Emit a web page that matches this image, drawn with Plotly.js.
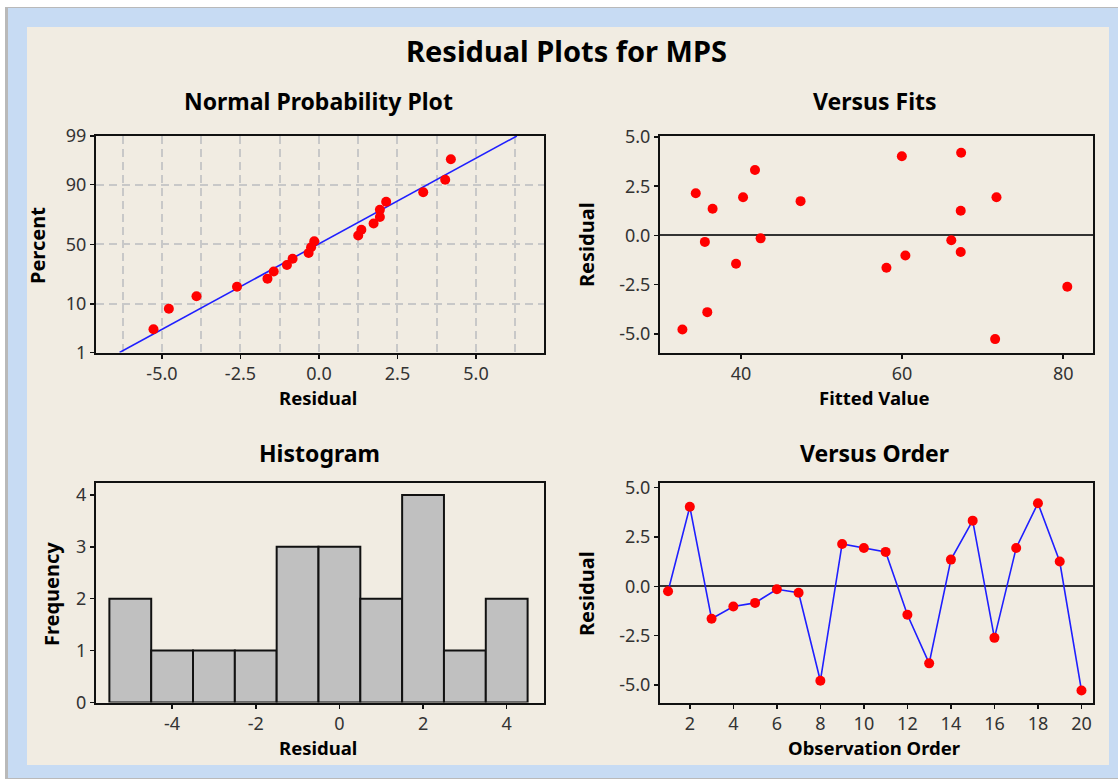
<!DOCTYPE html>
<html>
<head>
<meta charset="utf-8">
<script src="https://cdn.plot.ly/plotly-3.0.1.min.js"></script>
<style>
  html, body { margin: 0; padding: 0; background: #ffffff; }
  #chart { width: 1118px; height: 780px; }
</style>
</head>
<body>
<div id="chart"></div>
<script>
// ---------------- data ----------------
const observation = [1, 2, 3, 4, 5, 6, 7, 8, 9, 10, 11, 12, 13, 14, 15, 16, 17, 18, 19, 20];
const residuals = [-0.25, 4.02, -1.64, -1.02, -0.84, -0.15, -0.33, -4.78, 2.14, 1.94,
                   1.74, -1.44, -3.90, 1.35, 3.32, -2.61, 1.94, 4.20, 1.25, -5.27];
const fittedValues = [66.11, 59.97, 58.06, 60.41, 67.28, 42.44, 35.52, 32.73, 34.39, 40.26,
                      47.40, 39.39, 35.82, 36.48, 41.74, 80.51, 71.72, 67.33, 67.28, 71.55];
// normal probability plot: percent position of each sorted residual
const probPercent = [3.4, 8.3, 13.2, 18.1, 23.0, 27.9, 32.8, 37.7, 42.6, 47.5,
                     52.5, 57.4, 62.3, 67.2, 72.1, 77.0, 81.9, 86.8, 91.7, 96.6];
const fitLineX = [-6.35, 6.30];
const fitLinePercent = [1, 99];
const percentTicks = [1, 10, 50, 90, 99];
const residualTicks = [-5, -2.5, 0, 2.5, 5];
const residualTickText = ["-5.0", "-2.5", "0.0", "2.5", "5.0"];
const histTicks = [-4, -2, 0, 2, 4];
const histTickText = ["-4", "-2", "0", "2", "4"];
const fitTicks = [40, 60, 80];
const orderTicks = [2, 4, 6, 8, 10, 12, 14, 16, 18, 20];
const freqTicks = [0, 1, 2, 3, 4];
const histBinStart = -5.5, histBinEnd = 4.5, histBinSize = 1;

// ---------------- probability scale (axis transform) ----------------
function normInv(p) {
  const a = [-3.969683028665376e+01, 2.209460984245205e+02, -2.759285104469687e+02,
             1.383577518672690e+02, -3.066479806614716e+01, 2.506628277459239e+00];
  const b = [-5.447609879822406e+01, 1.615858368580409e+02, -1.556989798598866e+02,
             6.680131188771972e+01, -1.328068155288572e+01];
  const c = [-7.784894002430293e-03, -3.223964580411365e-01, -2.400758277161838e+00,
             -2.549732539343734e+00, 4.374664141464968e+00, 2.938163982698783e+00];
  const d = [7.784695709041462e-03, 3.224671290700398e-01, 2.445134137142996e+00,
             3.754408661907416e+00];
  const pl = 0.02425, ph = 1 - pl;
  let q, r;
  if (p < pl) {
    q = Math.sqrt(-2 * Math.log(p));
    return (((((c[0]*q+c[1])*q+c[2])*q+c[3])*q+c[4])*q+c[5]) / ((((d[0]*q+d[1])*q+d[2])*q+d[3])*q+1);
  } else if (p <= ph) {
    q = p - 0.5; r = q * q;
    return (((((a[0]*r+a[1])*r+a[2])*r+a[3])*r+a[4])*r+a[5])*q / (((((b[0]*r+b[1])*r+b[2])*r+b[3])*r+b[4])*r+1);
  } else {
    q = Math.sqrt(-2 * Math.log(1 - p));
    return -(((((c[0]*q+c[1])*q+c[2])*q+c[3])*q+c[4])*q+c[5]) / ((((d[0]*q+d[1])*q+d[2])*q+d[3])*q+1);
  }
}
const toZ = pct => normInv(pct / 100);
const sortedResiduals = residuals.slice().sort((u, v) => u - v);

// ---------------- page geometry helpers ----------------
const W = 1118, H = 780;
const px = x => x / W;
const py = y => 1 - y / H;

const FONT = "Noto Sans, DejaVu Sans, sans-serif";
const tickFont = { family: FONT, size: 18, color: "#333333" };
const RED = "#ff0000", BLUE = "#1f1fff";

function axisBase(extra) {
  return Object.assign({
    showline: true, linecolor: "#111111", linewidth: 2, mirror: true,
    ticks: "outside", ticklen: 4, tickwidth: 1.5, tickcolor: "#111111",
    tickfont: tickFont, showgrid: false, zeroline: false, fixedrange: true,
    automargin: false
  }, extra);
}

const data = [
  // Normal probability plot
  { type: "scatter", mode: "lines", x: fitLineX, y: fitLinePercent.map(toZ),
    xaxis: "x", yaxis: "y", line: { color: BLUE, width: 1.6 }, hoverinfo: "skip" },
  { type: "scatter", mode: "markers", x: sortedResiduals, y: probPercent.map(toZ),
    xaxis: "x", yaxis: "y", marker: { color: RED, size: 10 } },
  // Versus fits
  { type: "scatter", mode: "markers", x: fittedValues, y: residuals,
    xaxis: "x2", yaxis: "y2", marker: { color: RED, size: 10 } },
  // Histogram
  { type: "histogram", x: residuals, xaxis: "x3", yaxis: "y3",
    xbins: { start: histBinStart, end: histBinEnd, size: histBinSize },
    marker: { color: "#c0c0c0", line: { color: "#111111", width: 2 } } },
  // Versus order
  { type: "scatter", mode: "lines+markers", x: observation, y: residuals,
    xaxis: "x4", yaxis: "y4", line: { color: BLUE, width: 1.6 },
    marker: { color: RED, size: 10 } }
];

const dom = {
  leftX: [px(96), px(543.5)],
  rightX: [px(660), px(1093)],
  topY: [py(352.5), py(136)],
  botY: [py(702.5), py(482.5)]
};

const gridDash = { showgrid: true, gridcolor: "#c8c8c8", gridwidth: 2, griddash: "8px,5px" };

const layout = {
  width: W, height: H,
  margin: { l: 0, r: 0, t: 0, b: 0 },
  paper_bgcolor: "#ffffff",
  plot_bgcolor: "#ffffff",
  showlegend: false,
  bargap: 0,
  xaxis: axisBase(Object.assign({ domain: dom.leftX, anchor: "y", range: [-7.1, 7.15],
    tickvals: residualTicks, ticktext: residualTickText,
    minor: { tick0: 0, dtick: 1.25, showgrid: true, gridcolor: "#c8c8c8", gridwidth: 2, griddash: "8px,5px", ticks: "" } },
    gridDash)),
  yaxis: axisBase(Object.assign({ domain: dom.topY, anchor: "x",
    range: [toZ(1), toZ(99)],
    tickvals: percentTicks.map(toZ), ticktext: percentTicks.map(String) }, gridDash)),
  xaxis2: axisBase({ domain: dom.rightX, anchor: "y2", range: [29.95, 83.7],
    tickvals: fitTicks, ticktext: fitTicks.map(String) }),
  yaxis2: axisBase({ domain: dom.topY, anchor: "x2", range: [-5.95, 5.05],
    tickvals: residualTicks, ticktext: residualTickText,
    zeroline: true, zerolinecolor: "#333333", zerolinewidth: 2 }),
  xaxis3: axisBase({ domain: dom.leftX, anchor: "y3", range: [-5.82, 4.88],
    tickvals: histTicks, ticktext: histTickText }),
  yaxis3: axisBase({ domain: dom.botY, anchor: "x3", range: [0, 4.24],
    tickvals: freqTicks, ticktext: freqTicks.map(String) }),
  xaxis4: axisBase({ domain: dom.rightX, anchor: "y4", range: [0.63, 20.53],
    tickvals: orderTicks, ticktext: orderTicks.map(String) }),
  yaxis4: axisBase({ domain: dom.botY, anchor: "x4", range: [-5.88, 5.25],
    tickvals: residualTicks, ticktext: residualTickText,
    zeroline: true, zerolinecolor: "#333333", zerolinewidth: 2 }),
  shapes: [
    { type: "rect", xref: "paper", yref: "paper", layer: "below",
      x0: px(5), x1: px(1118), y0: py(779), y1: py(7),
      fillcolor: "#b9b9b9", line: { width: 0 } },
    { type: "rect", xref: "paper", yref: "paper", layer: "below",
      x0: px(8), x1: px(1118), y0: py(778), y1: py(8),
      fillcolor: "#c7dbf3", line: { width: 0 } },
    { type: "rect", xref: "paper", yref: "paper", layer: "below",
      x0: px(27), x1: px(1109), y0: py(765), y1: py(27),
      fillcolor: "#f1ece2", line: { width: 0 } }
  ],
  annotations: []
};

function note(text, x, y, size, opts) {
  layout.annotations.push(Object.assign({
    text: text, xref: "paper", yref: "paper", x: px(x), y: py(y),
    xanchor: "center", yanchor: "middle", showarrow: false,
    font: { family: FONT, size: size, color: "#000000", weight: "bold" }
  }, opts || {}));
}

note("Residual Plots for MPS", 566, 51, 29);
note("Normal Probability Plot", 318, 101, 23);
note("Versus Fits", 874.5, 101, 23);
note("Histogram", 319, 453, 23);
note("Versus Order", 874.5, 453, 23);
note("Residual", 318, 397, 18.5);
note("Fitted Value", 874.5, 397, 18.5);
note("Residual", 318, 747, 18.5);
note("Observation Order", 874, 747, 18.5);
note("Percent", 37, 246, 20, { textangle: -90 });
note("Residual", 586, 245, 20, { textangle: -90 });
note("Frequency", 51, 594, 20, { textangle: -90 });
note("Residual", 586, 594, 20, { textangle: -90 });

Plotly.newPlot("chart", data, layout, { displayModeBar: false, staticPlot: true });
</script>
</body>
</html>
